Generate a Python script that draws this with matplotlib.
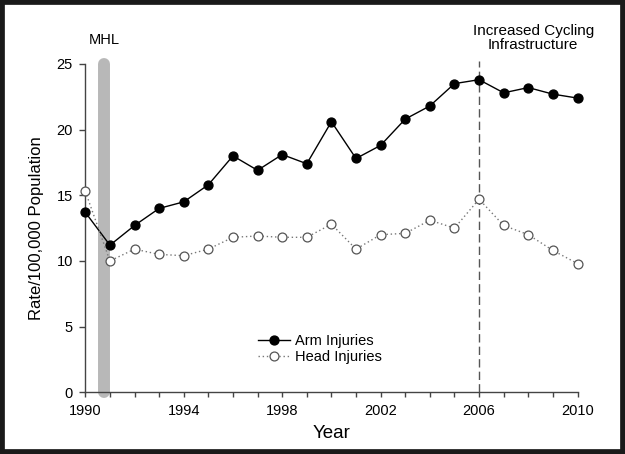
import matplotlib
matplotlib.use("Agg")
import matplotlib.pyplot as plt
from matplotlib.patches import Rectangle

years = list(range(1990, 2011))
arm_injuries = [13.7, 11.2, 12.7, 14.0, 14.5, 15.8, 18.0, 16.9, 18.1, 17.4, 20.6,
                17.8, 18.8, 20.8, 21.8, 23.5, 23.8, 22.8, 23.2, 22.7, 22.4]
head_injuries = [15.3, 10.0, 10.9, 10.5, 10.4, 10.9, 11.8, 11.9, 11.8, 11.8, 12.8,
                 10.9, 12.0, 12.1, 13.1, 12.5, 14.7, 12.7, 12.0, 10.8, 9.8]
x_ticks = [1990, 1994, 1998, 2002, 2006, 2010]
y_ticks = [0, 5, 10, 15, 20, 25]
mhl_year = 1990.75
infra_year = 2006

plt.rcParams['font.family'] = ['Liberation Sans', 'DejaVu Sans']

fig = plt.figure(figsize=(6.25, 4.54), dpi=100)
fig.patches.append(Rectangle((0, 0), 1, 1, transform=fig.transFigure,
                             fill=False, edgecolor='#1a1a1a', linewidth=7))
ax = fig.add_axes([0.1365, 0.1359, 0.7875, 0.7233])

# MHL band
ax.plot([mhl_year, mhl_year], [0, 25.0], color='#b8b8b8', linewidth=8.6,
        solid_capstyle='round', zorder=1, clip_on=False)
# infrastructure line
ax.plot([infra_year, infra_year], [0, 25.2], color='#555555', linewidth=1,
        linestyle=(0, (6, 3)), zorder=1, clip_on=False)

ax.plot(years, arm_injuries, color='black', linewidth=1, marker='o',
        markersize=6.4, markerfacecolor='black', markeredgecolor='black',
        label='Arm Injuries', zorder=3, clip_on=False)
ax.plot(years, head_injuries, color='#777777', linewidth=1, linestyle=(0, (1, 2)),
        marker='o', markersize=6.4, markerfacecolor='white', markeredgecolor='#555555',
        markeredgewidth=0.9, label='Head Injuries', zorder=3, clip_on=False)

ax.set_xlim(1990, 2010)
ax.set_ylim(0, 25)
ax.set_xticks(x_ticks)
ax.set_xticks(years, minor=True)
ax.set_yticks(y_ticks)
ax.spines['top'].set_visible(False)
ax.spines['right'].set_visible(False)
for s in ('left', 'bottom'):
    ax.spines[s].set_color('#444444')
    ax.spines[s].set_linewidth(1)
ax.tick_params(axis='both', which='both', direction='out', length=3.5,
               width=1, color='#444444', labelsize=10.5, pad=5)
ax.tick_params(axis='y', length=4.5, pad=4.5)

ax.set_xlabel('Year', fontsize=13.5, labelpad=5)
ax.set_ylabel('Rate/100,000 Population', fontsize=12, labelpad=9)

ax.text(mhl_year, 26.8, 'MHL', ha='center', va='center', fontsize=10.5)
ax.text(2008.2, 26.96, 'Increased Cycling\nInfrastructure', ha='center',
        va='center', fontsize=11, linespacing=0.95)

leg = ax.legend(loc='center', bbox_to_anchor=(0.477, 0.132), frameon=False,
                fontsize=10.5, handlelength=2.2, handletextpad=0.36,
                labelspacing=0.1)

fig.savefig('out.png', dpi=100)
